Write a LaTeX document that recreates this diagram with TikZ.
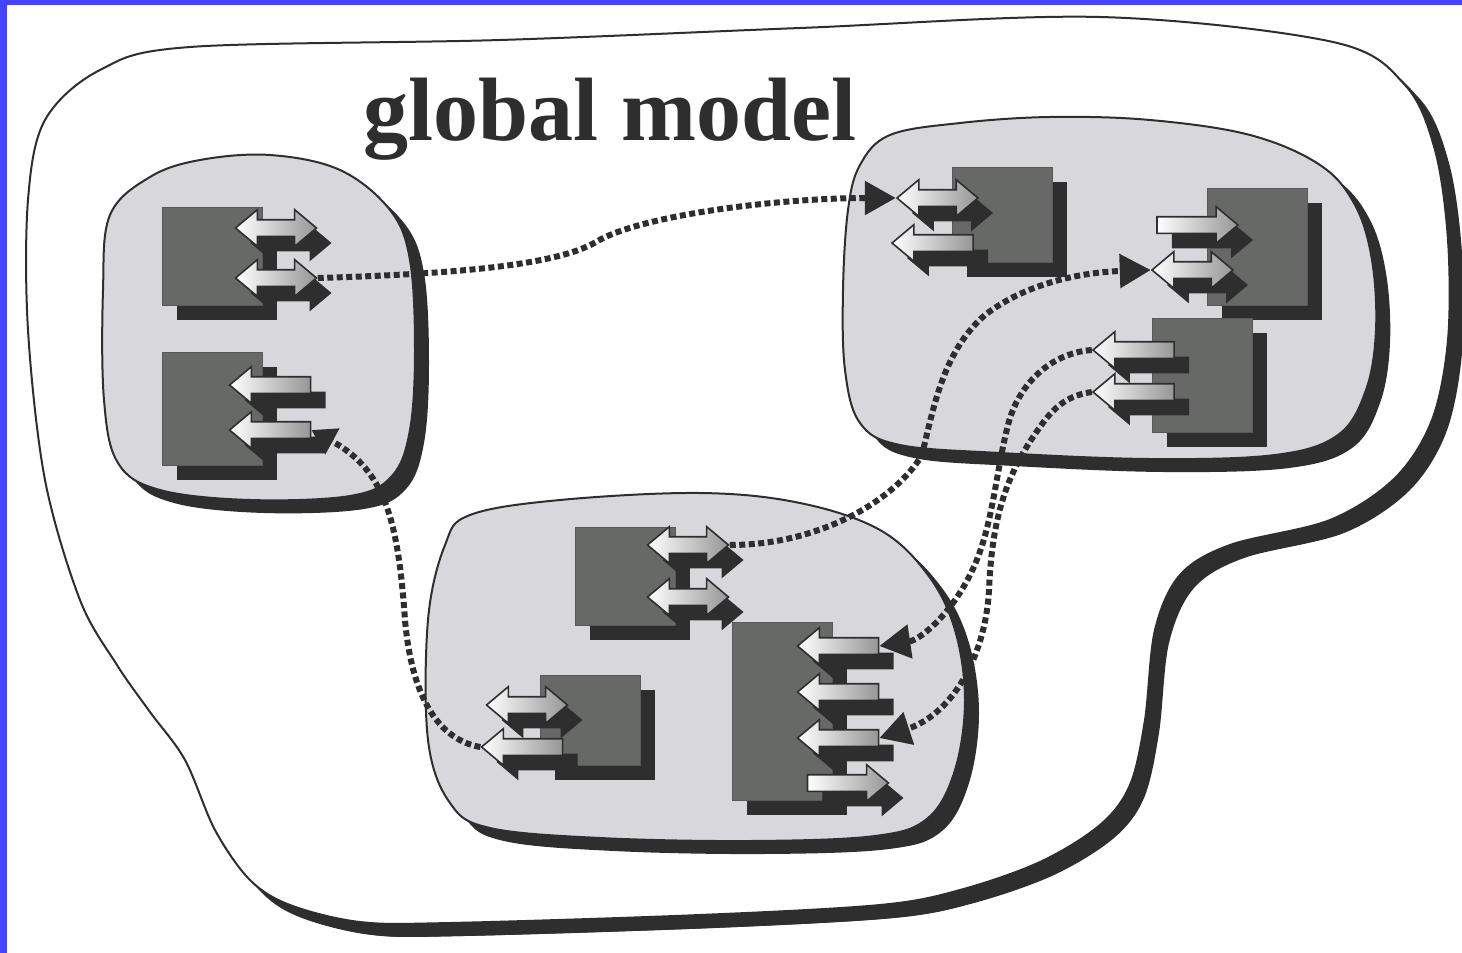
\documentclass[tikz,border=0pt]{standalone}
\usepackage{fontspec}
\setmainfont{Liberation Serif}
\usetikzlibrary{shapes.arrows,shadows,arrows.meta}

\definecolor{ink}{RGB}{46,46,46}
\definecolor{blobfill}{RGB}{216,215,220}
\definecolor{boxfill}{RGB}{103,105,103}
\definecolor{portgray}{RGB}{150,150,150}
\definecolor{frameblue}{RGB}{68,68,255}

\begin{document}
\begin{tikzpicture}[x=1pt,y=-1pt,
    region/.style={
        draw=ink,
        line width=2pt,
        fill=blobfill,
        drop shadow={shadow xshift=14pt, shadow yshift=-13pt, opacity=1, fill=ink}
    },
    world/.style={
        region,
        fill=white,
        drop shadow={shadow xshift=12pt, shadow yshift=-13pt, opacity=1, fill=ink}
    },
    unit/.style={
        draw=ink!80,
        line width=1pt,
        fill=boxfill,
        rectangle,
        inner sep=0pt,
        minimum width=100pt,
        drop shadow={shadow xshift=15pt, shadow yshift=-15pt, opacity=1, fill=ink}
    },
    port/.style={
        draw=ink,
        line width=1.6pt,
        left color=white,
        right color=portgray,
        inner xsep=0pt,
        inner ysep=7.5pt,
        minimum height=81pt,
        drop shadow={shadow xshift=15pt, shadow yshift=-15pt, opacity=1, fill=ink}
    },
    inout/.style={
        port,
        double arrow,
        double arrow head extend=10pt,
        double arrow tip angle=80
    },
    outport/.style={
        port,
        single arrow,
        single arrow head extend=10pt,
        single arrow tip angle=80
    },
    inport/.style={
        outport,
        shape border rotate=180
    },
    link/.style={
        draw=ink,
        line width=6pt,
        dash pattern=on 6pt off 3.5pt,
        -{Triangle[length=31pt,width=33pt]}
    },
    title/.style={
        text=ink,
        anchor=base,
        font=\bfseries\fontsize{90}{90}\selectfont
    }
]

    \fill[white] (0,0) rectangle (1462,953);
    \useasboundingbox (0,0) rectangle (1462,953);

    % global model outline
    \path[world] plot[smooth cycle, tension=0.55] coordinates {
        (190,47) (500,40) (800,28) (1100,17) (1333,42) (1405,85) (1435,150)
        (1448,240) (1448,340) (1432,420) (1395,478) (1330,520) (1230,545)
        (1180,575) (1155,630) (1145,720) (1130,785) (1100,825) (1040,862)
        (960,890) (880,905) (700,915) (450,923) (360,922) (290,905) (250,880)
        (215,830) (185,760) (150,712) (117,665) (80,600) (45,480) (28,330)
        (28,200) (45,120) (100,70)};

    \node[title] (title) at (610,140) {global model};

    % local models
    \path[region] plot[smooth cycle, tension=0.6] coordinates {
        (150,177) (200,160) (270,155) (340,170) (390,210) (410,260) (415,350)
        (410,430) (392,476) (350,496) (250,500) (160,490) (118,463) (104,400)
        (103,290) (110,215)};
    \path[region] plot[smooth cycle, tension=0.6] coordinates {
        (860,165) (890,135) (960,123) (1050,117) (1150,120) (1250,135)
        (1320,165) (1355,205) (1372,260) (1376,330) (1366,390) (1338,435)
        (1275,455) (1150,459) (1000,453) (900,445) (860,423) (845,370)
        (843,290) (848,210)};
    \path[region] plot[smooth cycle, tension=0.6] coordinates {
        (445,545) (470,515) (560,500) (700,493) (800,503) (880,530) (928,575)
        (955,630) (965,700) (955,770) (928,818) (875,836) (750,841) (600,838)
        (490,828) (450,803) (428,740) (428,620)};

    % components
    \node[unit, minimum height=98pt]  (a1) at (212,256)   {};
    \node[unit, minimum height=113pt] (a2) at (212,408.5) {};
    \node[unit, minimum height=95pt]  (b1) at (1002,214.5) {};
    \node[unit, minimum height=117pt] (b2) at (1257,246.5) {};
    \node[unit, minimum height=114pt] (b3) at (1202,375)  {};
    \node[unit, minimum height=98pt]  (c2) at (625,576)   {};
    \node[unit, minimum height=90pt]  (c1) at (590,720)   {};
    \node[unit, minimum height=178pt] (c3) at (782,711)   {};

    % ports
    \node[inout]  (a1a) at (276,228) {};
    \node[inout]  (a1b) at (276,278) {};
    \node[inport] (a2a) at (275,385) {};
    \node[inport] (a2b) at (275,430) {};
    \node[inout]  (b1a) at (937.5,198) {};
    \node[inport] (b1b) at (937.5,243) {};
    \node[outport] (b2a) at (1192.5,225) {};
    \node[inout]  (b2b) at (1192.5,270) {};
    \node[inport] (b3a) at (1138.5,350) {};
    \node[inport] (b3b) at (1138.5,392) {};
    \node[inout]  (c2a) at (688,545) {};
    \node[inout]  (c2b) at (688,597) {};
    \node[inout]  (c1a) at (527,705) {};
    \node[inport] (c1b) at (527,747) {};
    \node[inport] (c3a) at (843,646) {};
    \node[inport] (c3b) at (843,692) {};
    \node[inport] (c3c) at (843,738) {};
    \node[outport] (c3d) at (843,783) {};

    % links
    \draw[link] (a1b.east) .. controls (450,274) and (555,266) .. (596,242)
        .. controls (640,215) and (780,198) .. (b1a.west);
    \draw[link, -{Triangle[length=24pt,width=28pt]}] (c1b.tip)
        .. controls (440,740) and (412,700) .. (405,620)
        .. controls (398,520) and (385,470) .. (a2b.tail);
    \draw[link] (c2a.east) .. controls (820,545) and (895,500) .. (922,455)
        .. controls (935,400) and (945,350) .. (985,315)
        .. controls (1030,280) and (1090,272) .. (b2b.west);
    \draw[link] (b3a.tip) .. controls (1050,353) and (1018,385) .. (1008,425)
        .. controls (995,475) and (993,530) .. (970,575)
        .. controls (950,615) and (920,640) .. (c3a.tail);
    \draw[link] (b3b.tip) .. controls (1070,395) and (1055,405) .. (1040,427)
        .. controls (1005,475) and (992,520) .. (989,590)
        .. controls (985,660) and (950,715) .. (c3c.tail);

    \fill[frameblue] (0,0) rectangle (7,953);
    \fill[frameblue] (0,0) rectangle (1462,5);
\end{tikzpicture}
\end{document}
